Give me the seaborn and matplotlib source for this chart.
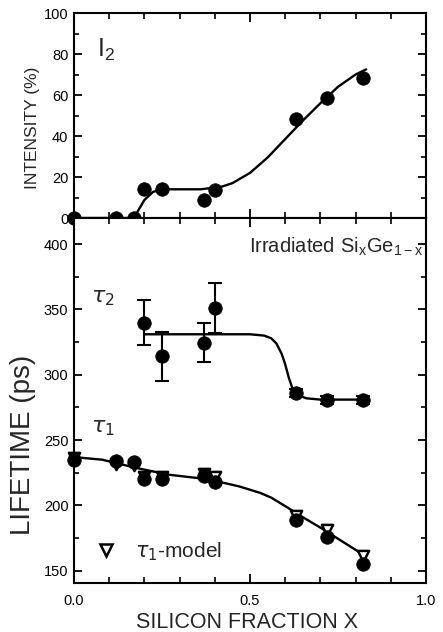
import numpy as np
import pandas as pd
import matplotlib
matplotlib.use("Agg")
import matplotlib.pyplot as plt
from matplotlib.lines import Line2D
from matplotlib.ticker import MultipleLocator
import seaborn as sns

# ---------------- data ----------------
x_frac = [0.0, 0.12, 0.17, 0.20, 0.25, 0.37, 0.40, 0.63, 0.72, 0.82]
i2_vals = [0, 0, 0, 14, 14, 9, 13.5, 48.5, 58.5, 68.5]

i2_fit_x = [0.0, 0.17, 0.20, 0.225, 0.26, 0.36, 0.42, 0.45, 0.50, 0.55, 0.60,
            0.65, 0.70, 0.75, 0.80, 0.83]
i2_fit_y = [0, 0, 8.8, 12.8, 14, 14, 15.3, 17, 22, 29.5, 38.5,
            47.5, 56, 64, 70, 72.5]

tau2_x = [0.20, 0.25, 0.37, 0.40, 0.63, 0.72, 0.82]
tau2_vals = [340, 314, 324.5, 351, 286, 281, 281]
tau2_err = [17.5, 19, 15, 19, 3, 3, 3]

tau2_fit_x = [0.20, 0.50, 0.54, 0.56, 0.575, 0.59, 0.60, 0.61, 0.62, 0.635, 0.66, 0.70, 0.83]
tau2_fit_y = [331, 331, 330, 328, 324, 316, 308, 298, 290, 284.5, 282, 281, 281]

tau1_vals = [235, 234, 233, 220, 220, 222.5, 218, 189, 176, 155]
tau1_model = [236, 232, 231, 222, 222, 224, 222, 192, 181, 161]

tau1_fit_x = [0.0, 0.08, 0.18, 0.27, 0.35, 0.43, 0.47, 0.50, 0.53, 0.56, 0.60,
              0.65, 0.70, 0.75, 0.80, 0.83]
tau1_fit_y = [237, 235, 228.5, 223.5, 221, 217, 214.5, 212, 209.5, 206, 199.5,
              191, 183, 174.5, 166, 161]

x_ticklabels = ["0.0", "0.5", "1.0"]

# ---------------- style ----------------
sns.set_theme(style="ticks", rc={
    "axes.linewidth": 1.5,
    "xtick.direction": "in", "ytick.direction": "in",
    "xtick.top": True, "ytick.right": True,
    "xtick.major.width": 1.3, "ytick.major.width": 1.3,
    "xtick.minor.width": 1.2, "ytick.minor.width": 1.2,
    "xtick.major.size": 6.5, "ytick.major.size": 5.8,
    "xtick.minor.size": 4, "ytick.minor.size": 3.6,
    "xtick.labelsize": 10.5, "ytick.labelsize": 10.5,
    "axes.edgecolor": "black",
    "xtick.color": "black", "ytick.color": "black",
})
plt.rcParams["font.family"] = ["Liberation Sans", "DejaVu Sans"]

W, H = 443, 632
fig = plt.figure(figsize=(W / 100, H / 100), dpi=100)
L, R = 74, 426
ax_top = fig.add_axes([L / W, 1 - 218 / H, (R - L) / W, (218 - 13) / H])
ax_bot = fig.add_axes([L / W, 1 - 583.3 / H, (R - L) / W, (583.3 - 218) / H])

ms_s = 95
line_kw = dict(color="black", linewidth=1.7, estimator=None, sort=False, legend=False)

# ---- top panel: intensity ----
df_i2 = pd.DataFrame({"x": x_frac, "y": i2_vals})
df_i2fit = pd.DataFrame({"x": i2_fit_x, "y": i2_fit_y})
sns.lineplot(data=df_i2fit, x="x", y="y", ax=ax_top, **line_kw)
sns.scatterplot(data=df_i2, x="x", y="y", ax=ax_top, color="black", s=ms_s,
                edgecolor="black", linewidth=0.5, zorder=4, clip_on=False, legend=False)
ax_top.set_xlim(0, 1)
ax_top.set_ylim(0, 100)
ax_top.yaxis.set_major_locator(MultipleLocator(20))
ax_top.yaxis.set_minor_locator(MultipleLocator(10))
ax_top.xaxis.set_major_locator(MultipleLocator(0.5))
ax_top.xaxis.set_minor_locator(MultipleLocator(0.1))
ax_top.tick_params(axis="x", which="both", labelbottom=False)
ax_top.tick_params(axis="y", which="major", pad=4)
ax_top.set_xlabel("")
ax_top.set_ylabel("")
ax_top.text(0.065, 0.785, r"$\mathregular{I_2}$", transform=ax_top.transAxes,
            fontsize=18, ha="left", va="baseline")

# ---- bottom panel: lifetimes ----
df_t2 = pd.DataFrame({"x": tau2_x, "y": tau2_vals})
df_t2fit = pd.DataFrame({"x": tau2_fit_x, "y": tau2_fit_y})
df_t1 = pd.DataFrame({"x": x_frac, "y": tau1_vals})
df_t1m = pd.DataFrame({"x": x_frac, "y": tau1_model})
df_t1fit = pd.DataFrame({"x": tau1_fit_x, "y": tau1_fit_y})

sns.lineplot(data=df_t2fit, x="x", y="y", ax=ax_bot, **line_kw)
sns.lineplot(data=df_t1fit, x="x", y="y", ax=ax_bot, **line_kw)
ax_bot.errorbar(tau2_x, tau2_vals, yerr=tau2_err, fmt="none", ecolor="black",
                elinewidth=1.5, capsize=5, capthick=1.5, zorder=3)
sns.scatterplot(data=df_t1m, x="x", y="y", ax=ax_bot, marker="v", s=65,
                facecolor="white", edgecolor="black", linewidth=1.8, zorder=3,
                clip_on=False, legend=False)
sns.scatterplot(data=df_t2, x="x", y="y", ax=ax_bot, color="black", s=ms_s,
                edgecolor="black", linewidth=0.5, zorder=4, clip_on=False, legend=False)
sns.scatterplot(data=df_t1, x="x", y="y", ax=ax_bot, color="black", s=ms_s,
                edgecolor="black", linewidth=0.5, zorder=4, clip_on=False, legend=False)

ax_bot.set_xlim(0, 1)
ax_bot.set_ylim(140.4, 420)
ax_bot.yaxis.set_major_locator(MultipleLocator(50))
ax_bot.yaxis.set_minor_locator(MultipleLocator(25))
ax_bot.set_xticks([0.0, 0.5, 1.0])
ax_bot.set_xticklabels(x_ticklabels)
ax_bot.xaxis.set_minor_locator(MultipleLocator(0.1))
ax_bot.tick_params(axis="x", which="major", pad=8)
ax_bot.tick_params(axis="y", which="major", pad=4)
ax_bot.set_xlabel("")
ax_bot.set_ylabel("")

ax_bot.text(0.048, 0.770, r"$\tau_2$", transform=ax_bot.transAxes,
            fontsize=16, ha="left", va="baseline")
ax_bot.text(0.048, 0.414, r"$\tau_1$", transform=ax_bot.transAxes,
            fontsize=16, ha="left", va="baseline")
ax_bot.text(0.994, 0.904, r"$\mathregular{Irradiated\ Si_xGe_{1-x}}$",
            transform=ax_bot.transAxes, fontsize=14.5, ha="right", va="baseline")

handle = Line2D([], [], marker="v", linestyle="none", markerfacecolor="white",
                markeredgecolor="black", markersize=8.5, markeredgewidth=1.8)
ax_bot.legend([handle], [r"$\tau_1$-model"], loc="lower left",
              bbox_to_anchor=(0.06, 0.055), frameon=False, fontsize=15,
              handlelength=1.0, handletextpad=0.9, borderpad=0, borderaxespad=0)

# ---- axis labels ----
fig.text(33 / W, 1 - 128 / H, "INTENSITY (%)", rotation=90, ha="center",
         va="center", fontsize=12.5)
fig.text(23 / W, 1 - 445 / H, "LIFETIME (ps)", rotation=90, ha="center",
         va="center", fontsize=20)
fig.text(247 / W, 1 - 628 / H, "SILICON FRACTION X", ha="center",
         va="baseline", fontsize=15.5)

fig.savefig("out.png", dpi=100)
